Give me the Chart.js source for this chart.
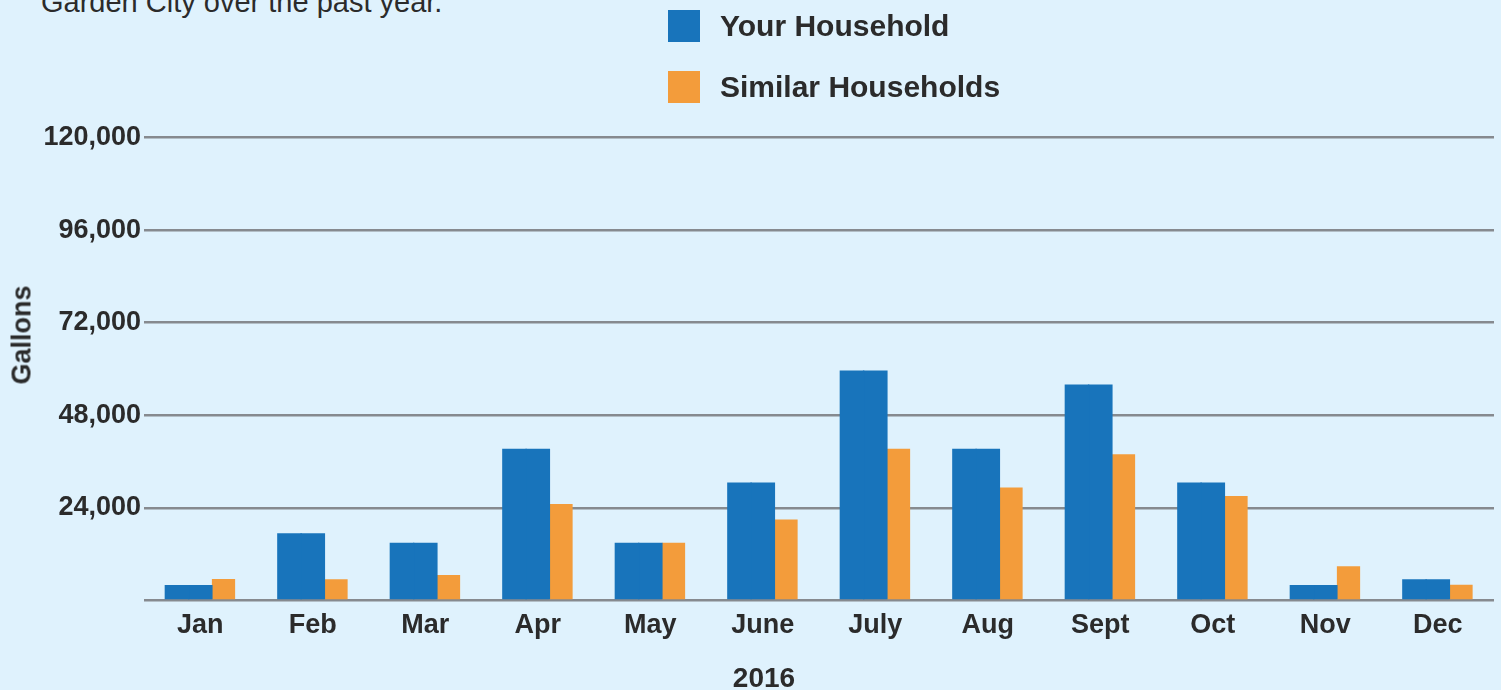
<!DOCTYPE html>
<html lang="en">
<head>
<meta charset="UTF-8">
<title>Household water use</title>
<script src="https://cdn.jsdelivr.net/npm/chart.js@4.4.0/dist/chart.umd.min.js"></script>
<style>
  html, body { margin: 0; padding: 0; background: #dff2fd; overflow: hidden; }
  #wrap { position: relative; width: 1501px; height: 690px; font-family: "Liberation Sans", Arial, sans-serif; color: #2b2b2b; }
  #chart { position: absolute; left: 0; top: 0; }
  .intro { position: absolute; left: 41px; top: -12px; font-size: 29px; line-height: 29px; white-space: nowrap; }
  #legend { position: absolute; left: 668px; top: 10px; }
  #legend .item { display: flex; align-items: center; height: 32px; margin-bottom: 29px; font-weight: bold; font-size: 30px; }
  #legend .box { width: 32px; height: 32px; margin-right: 20px; }
  .ytitle { position: absolute; left: 22px; top: 335px; transform: translate(-50%, -50%) rotate(-90deg); font-weight: bold; font-size: 27px; white-space: nowrap; }
  .xtitle { position: absolute; left: 764px; top: 678px; transform: translate(-50%, -50%); font-weight: bold; font-size: 28px; }
</style>
</head>
<body>
<div id="wrap">
  <div class="intro">Garden City over the past year.</div>
  <canvas id="chart" width="1501" height="690"></canvas>
  <div id="legend"></div>
  <div class="ytitle">Gallons</div>
  <div class="xtitle">2016</div>
</div>
<script>
// data (gallons)
const months = ['Jan', 'Feb', 'Mar', 'Apr', 'May', 'June', 'July', 'Aug', 'Sept', 'Oct', 'Nov', 'Dec'];
const yourHousehold = [4000, 17400, 15000, 39300, 15000, 30600, 59600, 39300, 56000, 30600, 4000, 5500];
const similarHouseholds = [5600, 5500, 6600, 25000, 15000, 21000, 39300, 29300, 37900, 27100, 8900, 4100];
const yTicks = [0, 24000, 48000, 72000, 96000, 120000];

const blue = '#1874bb';
const orange = '#f39c3b';
const textColor = '#2b2b2b';
const gridColor = '#868a8f';

// the blue bar is twice as wide as the orange one: it fills two group slots
const datasets = [
  { label: 'Your Household', data: yourHousehold, backgroundColor: blue, barPercentage: 1.06 },
  { label: 'Your Household', data: yourHousehold, backgroundColor: blue, barPercentage: 1.06, inLegend: false },
  { label: 'Similar Households', data: similarHouseholds, backgroundColor: orange, barPercentage: 1 }
];

const tickFont = { family: '"Liberation Sans", Arial, sans-serif', size: 27, weight: 'bold' };

const chart = new Chart(document.getElementById('chart'), {
  type: 'bar',
  data: { labels: months, datasets: datasets },
  options: {
    responsive: false,
    animation: false,
    devicePixelRatio: 1,
    layout: { padding: { top: 137.5, right: 7, bottom: 0, left: 0 } },
    datasets: { bar: { categoryPercentage: 0.62, borderWidth: 0 } },
    plugins: { legend: { display: false }, tooltip: { enabled: false } },
    scales: {
      x: {
        grid: { display: false },
        border: { display: false },
        ticks: { color: textColor, font: tickFont, padding: 1, maxRotation: 0 },
        afterFit: s => { s.height = 89.5; }
      },
      y: {
        min: 0,
        max: yTicks[yTicks.length - 1],
        afterBuildTicks: s => { s.ticks = yTicks.map(v => ({ value: v })); },
        grid: { color: gridColor, lineWidth: 2.5, drawTicks: false },
        border: { display: false },
        ticks: {
          color: textColor, font: tickFont, padding: 3,
          callback: v => v === 0 ? '' : v.toLocaleString('en-US')
        },
        afterFit: s => { s.width = 144; }
      }
    }
  }
});

// legend built from the chart's own datasets
const legend = document.getElementById('legend');
chart.data.datasets.forEach(ds => {
  if (ds.inLegend === false) return;
  const item = document.createElement('div');
  item.className = 'item';
  item.innerHTML = '<span class="box" style="background:' + ds.backgroundColor + '"></span>' + ds.label;
  legend.appendChild(item);
});
</script>
</body>
</html>
